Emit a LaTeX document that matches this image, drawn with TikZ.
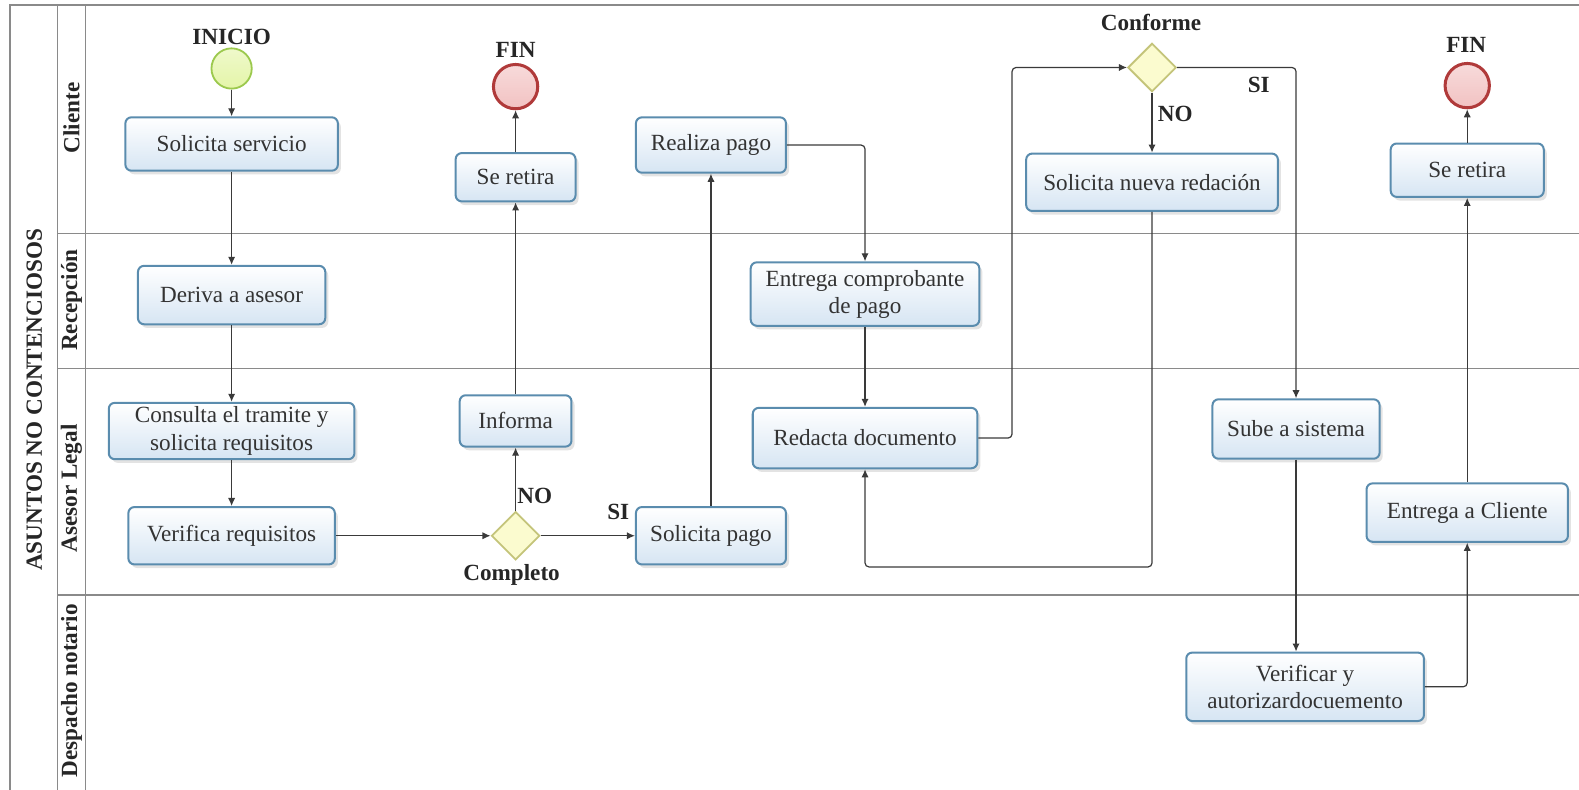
\documentclass[tikz,border=0pt]{standalone}
\usepackage{fontspec}
\setmainfont{Liberation Serif}
\usetikzlibrary{arrows.meta,shapes.geometric,shadows,calc}
\definecolor{frameline}{HTML}{8A8A8A}
\definecolor{boxline}{HTML}{5A8CAE}
\definecolor{boxfill}{HTML}{D6E5F3}
\definecolor{txt}{HTML}{333333}
\definecolor{startline}{HTML}{9CC94E}
\definecolor{startfill}{HTML}{E4F5A8}
\definecolor{endline}{HTML}{B03A3A}
\definecolor{endfill}{HTML}{F2C2C2}
\definecolor{gateline}{HTML}{C4C47A}
\definecolor{gatefill}{HTML}{FBFBCF}
\definecolor{flowline}{HTML}{3A3A3A}
\begin{document}
\begin{tikzpicture}[x=0.5pt,y=-0.5pt,
  every node/.style={font=\fontsize{11.5}{13.5}\selectfont, text=txt},
  sz/.style 2 args={minimum width=#1, minimum height=#2},
  task/.style={draw=boxline, line width=1pt, rounded corners=3pt,
    top color=white, bottom color=boxfill, align=center, inner sep=0pt,
    drop shadow={opacity=0.22, shadow xshift=1.5pt, shadow yshift=-1.8pt}},
  startev/.style={circle, draw=startline, line width=0.9pt, inner sep=0pt,
    minimum size=20pt, top color=white!40!startfill, bottom color=startfill},
  endev/.style={circle, draw=endline, line width=1.5pt, inner sep=0pt,
    minimum size=22pt, top color=white!40!endfill, bottom color=endfill},
  gate/.style={diamond, aspect=1, draw=gateline, line width=0.9pt, inner sep=0pt,
    minimum width=24pt, minimum height=24pt, fill=gatefill},
  lbl/.style={font=\fontsize{11.5}{13.5}\selectfont\bfseries, text=black!85},
  lanelbl/.style={font=\fontsize{11.5}{13.5}\selectfont\bfseries, text=black!85, rotate=90},
  frame/.style={draw=frameline, line width=0.8pt},
  flow/.style={draw=flowline, line width=0.6pt, rounded corners=2pt,
    -{Latex[length=4pt,width=3.6pt]}}
]
\useasboundingbox (0,0) rectangle (1568,784);

% pool and lanes
\draw[frame] (10,784) -- (10,5) -- (1568,5);
\draw[frame] (57,5) -- (57,784);
\draw[frame] (85,5) -- (85,784);
\draw[frame] (57,232) -- (1568,232);
\draw[frame] (57,366) -- (1568,366);
\draw[frame] (57,591) -- (1568,591);

\node[lanelbl] (pool) at (34,397) {ASUNTOS NO CONTENCIOSOS};
\node[lanelbl] (lcli) at (71,117) {Cliente};
\node[lanelbl] (lrec) at (71,298) {Recepción};
\node[lanelbl] (lase) at (71,485) {Asesor Legal};
\node[lanelbl] (ldes) at (71,686) {Despacho notario};

% events and gateways
\node[startev] (inicio) at (230,68) {};
\node[lbl] (tinicio) at (230,37) {INICIO};
\node[endev] (fin1) at (512,86) {};
\node[lbl] (tfin1) at (512,50) {FIN};
\node[endev] (fin2) at (1457,85) {};
\node[lbl] (tfin2) at (1456,45) {FIN};
\node[gate] (conforme) at (1144,67) {};
\node[lbl] (tconforme) at (1143,22) {Conforme};
\node[gate] (completo) at (512,532) {};
\node[lbl] (tcompleto) at (508,571) {Completo};

% tasks
\node[task, sz={105.5pt}{26.5pt}] (solserv) at (230,143) {Solicita servicio};
\node[task, sz={59.5pt}{24pt}] (retira1) at (512,176) {Se retira};
\node[task, sz={74.5pt}{27.5pt}] (realiza) at (706,144) {Realiza pago};
\node[task, sz={125pt}{28.5pt}] (solnueva) at (1144,181) {Solicita nueva redación};
\node[task, sz={76pt}{26.5pt}] (retira2) at (1457,169) {Se retira};
\node[task, sz={93pt}{29pt}] (deriva) at (230,293) {Deriva a asesor};
\node[task, sz={113.5pt}{31.5pt}] (entcomp) at (859,292) {Entrega comprobante\\de pago};
\node[task, sz={122pt}{28pt}] (consulta) at (230,428) {Consulta el tramite y\\solicita requisitos};
\node[task, sz={55.5pt}{25.5pt}] (informa) at (512,418) {Informa};
\node[task, sz={111.5pt}{30pt}] (redacta) at (859,435) {Redacta documento};
\node[task, sz={83pt}{29.5pt}] (sube) at (1287,426) {Sube a sistema};
\node[task, sz={102.5pt}{28.5pt}] (verifica) at (230,532) {Verifica requisitos};
\node[task, sz={74.5pt}{28.5pt}] (solpago) at (706,532) {Solicita pago};
\node[task, sz={100pt}{29pt}] (entcli) at (1457,509) {Entrega a Cliente};
\node[task, sz={118pt}{34pt}] (verif) at (1296,682) {Verificar y\\autorizardocuemento};

% gateway labels
\node[lbl] (tno1) at (531,492) {NO};
\node[lbl] (tsi1) at (614,508) {SI};
\node[lbl] (tno2) at (1167,113) {NO};
\node[lbl] (tsi2) at (1250,84) {SI};

% helper points for routed flows
\coordinate (rkink) at (1005,67);
\coordinate (loopbase) at (1144,563);

% sequence flows
\draw[flow] (inicio) -- (solserv);
\draw[flow] (solserv) -- (deriva);
\draw[flow] (deriva) -- (consulta);
\draw[flow] (consulta) -- (verifica);
\draw[flow] (verifica) -- (completo);
\draw[flow] (completo) -- (informa);
\draw[flow] (completo) -- (solpago);
\draw[flow] (informa) -- (retira1);
\draw[flow] (retira1) -- (fin1);
\draw[flow] (solpago) -- (realiza);
\draw[flow] (realiza.east) -| (entcomp.north);
\draw[flow] (entcomp) -- (redacta);
\draw[flow] (redacta.east) -| (rkink) -- (conforme.west);
\draw[flow] (conforme) -- (solnueva);
\draw[flow] (solnueva.south) -- (solnueva.south |- loopbase) -| (redacta.south);
\draw[flow] (conforme.east) -| (sube.north);
\draw[flow] (sube.south) -- (sube.south |- verif.north);
\draw[flow] (verif.east) -| (entcli.south);
\draw[flow] (entcli) -- (retira2);
\draw[flow] (retira2) -- (fin2);
\end{tikzpicture}
\end{document}
